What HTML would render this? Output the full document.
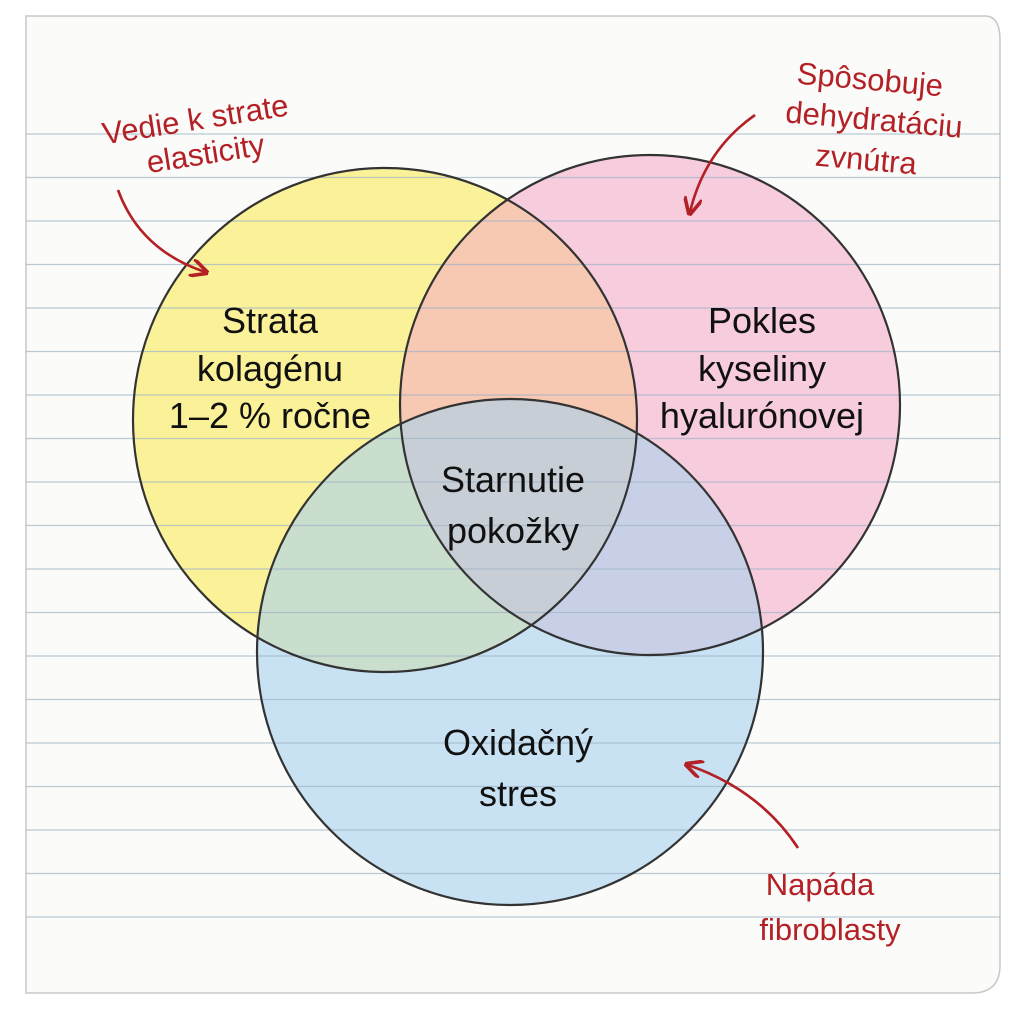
<!DOCTYPE html>
<html><head><meta charset="utf-8"><style>
html,body{margin:0;padding:0;background:#fff;width:1024px;height:1024px;overflow:hidden}
text{font-family:"Comic Sans MS","Liberation Sans",sans-serif}
</style></head><body>
<svg width="1024" height="1024" viewBox="0 0 1024 1024" xmlns="http://www.w3.org/2000/svg">
<defs>
<marker id="ah" viewBox="0 0 10 10" refX="8" refY="5" markerWidth="7" markerHeight="7" orient="auto"><path d="M0,0 L10,5 L0,10" fill="none" stroke="#b32025" stroke-width="2"/></marker>
</defs>
<rect x="0" y="0" width="1024" height="1024" fill="#ffffff"/>
<path d="M26,16 L985,16 Q1000,16 1000,40 L1000,965 Q1000,993 972,993 L26,993 Z" fill="#fbfbf9" stroke="#c8c8c8" stroke-width="1.5"/>
<circle cx="385" cy="420" r="252" fill="#f9ee78" fill-opacity="0.75"/>
<circle cx="650" cy="405" r="250" fill="#f4a6c6" fill-opacity="0.55"/>
<circle cx="510" cy="652" r="253" fill="#a8d2ee" fill-opacity="0.6"/>
<g stroke="#9fb4c8" stroke-width="1.3" opacity="0.7">
<line x1="26" y1="134" x2="1000" y2="134"/><line x1="26" y1="177.5" x2="1000" y2="177.5"/><line x1="26" y1="221" x2="1000" y2="221"/><line x1="26" y1="264.5" x2="1000" y2="264.5"/><line x1="26" y1="308" x2="1000" y2="308"/><line x1="26" y1="351.5" x2="1000" y2="351.5"/><line x1="26" y1="395" x2="1000" y2="395"/><line x1="26" y1="438.5" x2="1000" y2="438.5"/><line x1="26" y1="482" x2="1000" y2="482"/><line x1="26" y1="525.5" x2="1000" y2="525.5"/><line x1="26" y1="569" x2="1000" y2="569"/><line x1="26" y1="612.5" x2="1000" y2="612.5"/><line x1="26" y1="656" x2="1000" y2="656"/><line x1="26" y1="699.5" x2="1000" y2="699.5"/><line x1="26" y1="743" x2="1000" y2="743"/><line x1="26" y1="786.5" x2="1000" y2="786.5"/><line x1="26" y1="830" x2="1000" y2="830"/><line x1="26" y1="873.5" x2="1000" y2="873.5"/><line x1="26" y1="917" x2="1000" y2="917"/>
</g>
<g fill="none" stroke="#333" stroke-width="2.2">
<circle cx="385" cy="420" r="252"/>
<circle cx="650" cy="405" r="250"/>
<circle cx="510" cy="652" r="253"/>
</g>
<g font-size="36" fill="#111" text-anchor="middle">
<text x="270" y="333">Strata</text>
<text x="270" y="381">kolagénu</text>
<text x="270" y="428">1–2 % ročne</text>
<text x="762" y="333">Pokles</text>
<text x="762" y="381">kyseliny</text>
<text x="762" y="428">hyalurónovej</text>
<text x="513" y="492">Starnutie</text>
<text x="513" y="543">pokožky</text>
<text x="518" y="755">Oxidačný</text>
<text x="518" y="806">stres</text>
</g>
<g font-size="31" fill="#b32025" text-anchor="middle">
<text x="195" y="130" transform="rotate(-9 195 118)">Vedie k strate</text>
<text x="205" y="164" transform="rotate(-9 205 150)">elasticity</text>
<text x="870" y="90" transform="rotate(5 870 80)">Spôsobuje</text>
<text x="874" y="130" transform="rotate(5 874 120)">dehydratáciu</text>
<text x="866" y="170" transform="rotate(5 866 160)">zvnútra</text>
<text x="820" y="895">Napáda</text>
<text x="830" y="940">fibroblasty</text>
</g>
<g fill="none" stroke="#b32025" stroke-width="2.6" marker-end="url(#ah)">
<path d="M118,190 Q140,250 205,272"/>
<path d="M755,115 Q705,150 690,212"/>
<path d="M798,848 Q760,790 688,765"/>
</g>
</svg>
</body></html>
